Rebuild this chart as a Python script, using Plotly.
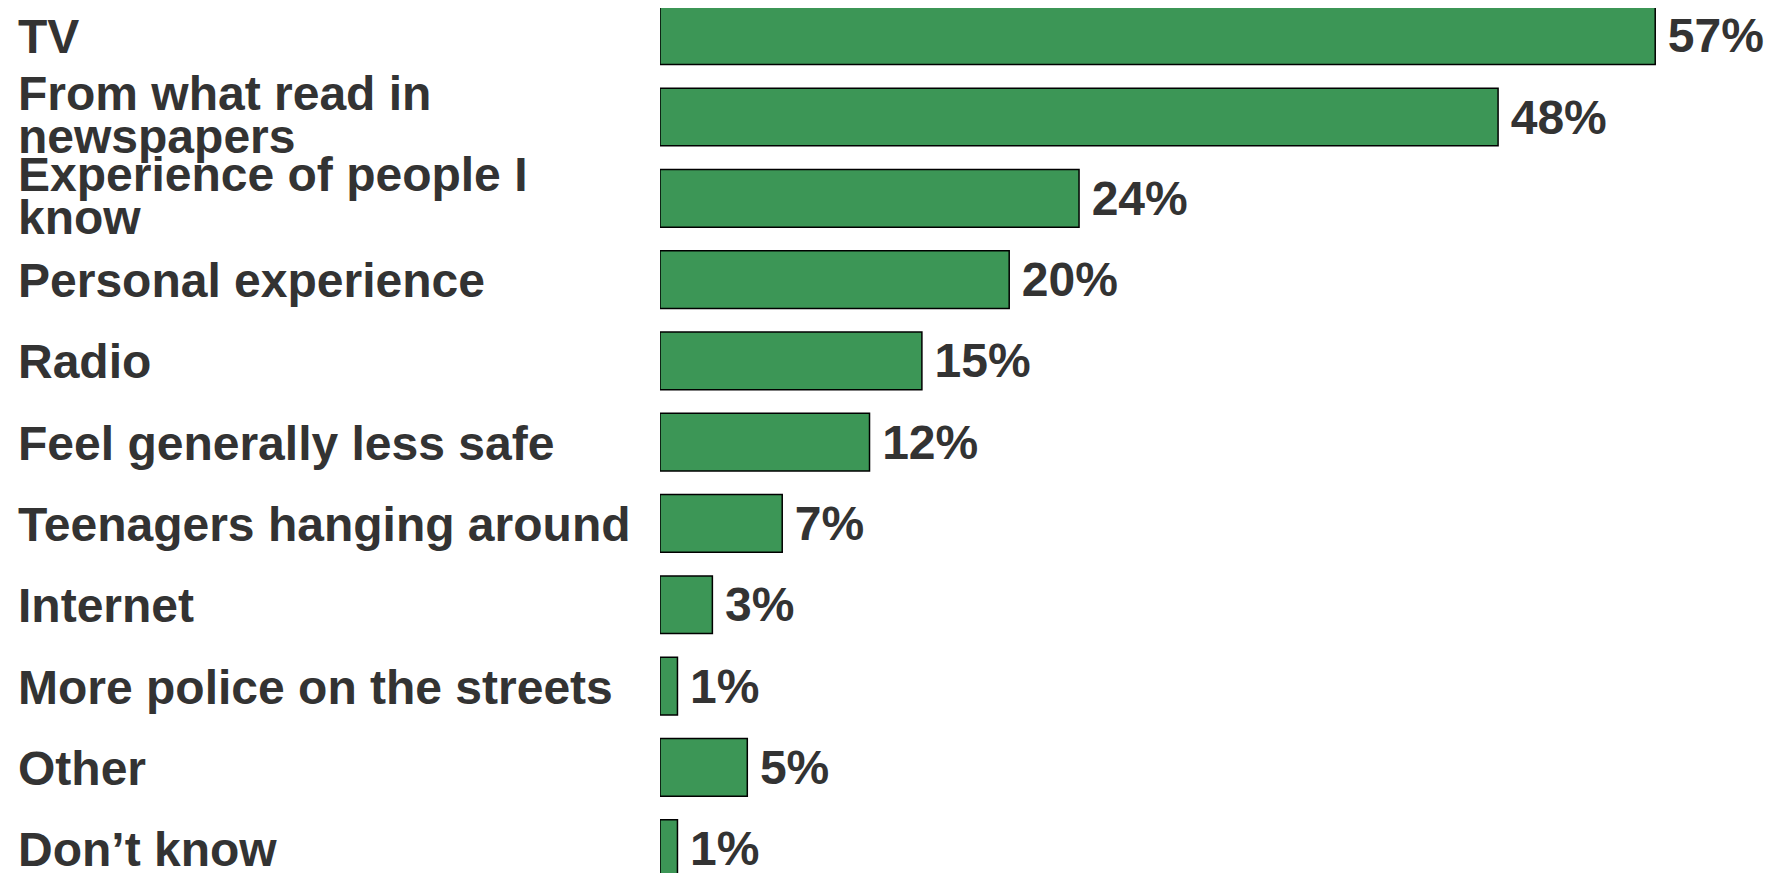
import plotly.graph_objects as go

categories = [
    "TV",
    "From what read in<br>newspapers",
    "Experience of people I<br>know",
    "Personal experience",
    "Radio",
    "Feel generally less safe",
    "Teenagers hanging around",
    "Internet",
    "More police on the streets",
    "Other",
    "Don\u2019t know",
]
values = [57, 48, 24, 20, 15, 12, 7, 3, 1, 5, 1]
value_labels = [f"{v}%" for v in values]

W, H = 1767, 865
LEFT = 652
FONT = "Liberation Sans, Arial, sans-serif"
TXT = "#333333"
FS = 48

idx = list(range(len(categories)))

fig = go.Figure(go.Bar(
    y=idx, x=values, orientation="h",
    marker=dict(color="#3c9656", line=dict(color="#000000", width=1.5)),
    width=0.71,
    text=[f"<b>\u2009{t}</b>" for t in value_labels],
    textposition="outside",
    textfont=dict(family=FONT, size=FS, color=TXT),
    cliponaxis=False,
))

annotations = []
for i, c in enumerate(categories):
    lines = c.split("<br>")
    n = len(lines)
    for j, ln in enumerate(lines):
        shift = -1 if n == 1 else (24 if j == 0 else -19)
        annotations.append(dict(
            x=-(LEFT - 8) / (W - LEFT), xref="paper", xanchor="left",
            y=i, yref="y", yanchor="middle", yshift=shift,
            text=f"<b>{ln}</b>", showarrow=False,
            font=dict(family=FONT, size=FS, color=TXT),
        ))

fig.update_layout(
    width=W, height=H,
    margin=dict(l=LEFT, r=0, t=0, b=0),
    paper_bgcolor="white", plot_bgcolor="white",
    showlegend=False,
    xaxis=dict(range=[0, 63.86], visible=False),
    yaxis=dict(range=[10.30, -0.341], visible=False),
    annotations=annotations,
)

fig.write_html("out.html")
